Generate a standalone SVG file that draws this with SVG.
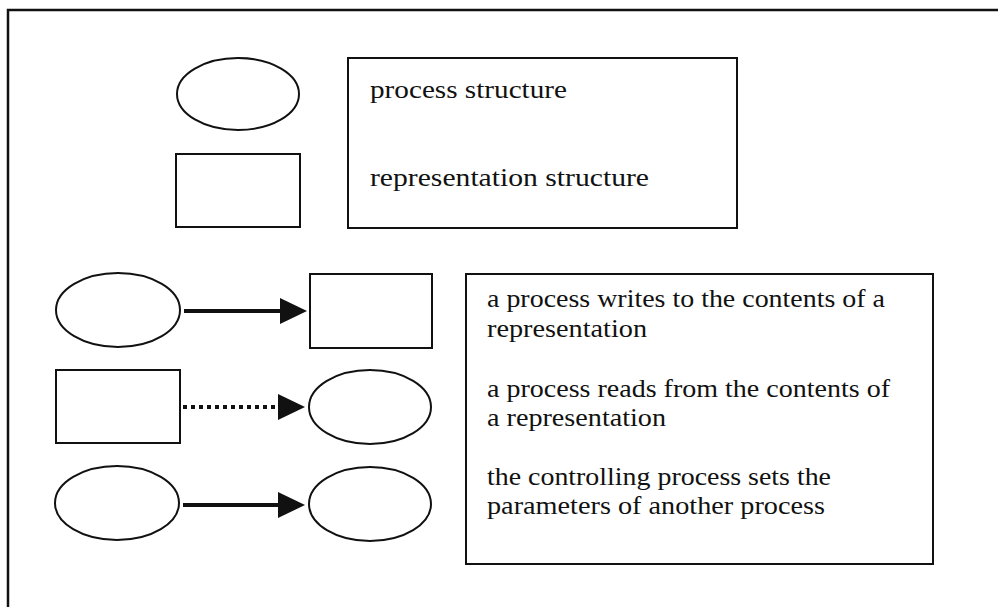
<svg xmlns="http://www.w3.org/2000/svg" width="998" height="607" viewBox="0 0 998 607">
  <style>
    .shape { fill: #fff; stroke: #111; stroke-width: 2; }
    .frame { fill: none; stroke: #111; stroke-width: 2.5; }
    .link { fill: none; stroke: #111; stroke-width: 4; }
    .dotted { stroke-dasharray: 4 4; }
    .lbl { font-family: "Palatino Linotype", "Book Antiqua", "Liberation Serif", serif; font-size: 26px; fill: #111; }
  </style>
  <defs>
    <marker id="head" markerUnits="userSpaceOnUse" markerWidth="28" markerHeight="28" refX="0" refY="13" orient="auto">
      <path d="M0,0 L27,13 L0,26 Z" fill="#111"/>
    </marker>
  </defs>

  <rect width="998" height="607" fill="#fff"/>

  <!-- outer frame: only the top and left edges fall inside the view -->
  <path class="frame" d="M8,607 V10 H998"/>

  <!-- key: symbols and their meaning -->
  <g id="key-process">
    <ellipse class="shape" cx="238" cy="94" rx="61" ry="36"/>
  </g>
  <g id="key-representation">
    <rect class="shape" x="176" y="154" width="124" height="73"/>
  </g>
  <g id="key-legend">
    <rect class="shape" x="348" y="58" width="389" height="170"/>
    <text class="lbl" x="370" y="98" textLength="197" lengthAdjust="spacingAndGlyphs">process structure</text>
    <text class="lbl" x="370" y="186" textLength="279" lengthAdjust="spacingAndGlyphs">representation structure</text>
  </g>

  <!-- row 1: process writes to representation -->
  <g id="write-process">
    <ellipse class="shape" cx="118" cy="310" rx="62" ry="37"/>
  </g>
  <g id="write-target">
    <rect class="shape" x="310" y="274" width="122" height="74"/>
  </g>

  <!-- row 2: process reads from representation -->
  <g id="read-source">
    <rect class="shape" x="56" y="370" width="124" height="73"/>
  </g>
  <g id="read-process">
    <ellipse class="shape" cx="370" cy="407" rx="61" ry="37"/>
  </g>

  <!-- row 3: controlling process sets another process -->
  <g id="control-process">
    <ellipse class="shape" cx="117" cy="503" rx="62" ry="37"/>
  </g>
  <g id="controlled-process">
    <ellipse class="shape" cx="370" cy="504" rx="61" ry="37"/>
  </g>

  <g id="connectors">
    <line class="link" x1="184" y1="311" x2="280" y2="311" marker-end="url(#head)"/>
    <line class="link dotted" x1="183" y1="407" x2="278" y2="407" marker-end="url(#head)"/>
    <line class="link" x1="183" y1="505" x2="278" y2="505" marker-end="url(#head)"/>
  </g>

  <g id="description">
    <rect class="shape" x="466" y="274" width="467" height="290"/>
    <text class="lbl" x="487" y="307" textLength="398" lengthAdjust="spacingAndGlyphs">a process writes to the contents of a</text>
    <text class="lbl" x="487" y="337" textLength="160" lengthAdjust="spacingAndGlyphs">representation</text>
    <text class="lbl" x="487" y="397" textLength="403" lengthAdjust="spacingAndGlyphs">a process reads from the contents of</text>
    <text class="lbl" x="487" y="426" textLength="179" lengthAdjust="spacingAndGlyphs">a representation</text>
    <text class="lbl" x="487" y="485" textLength="344" lengthAdjust="spacingAndGlyphs">the controlling process sets the</text>
    <text class="lbl" x="487" y="514" textLength="338" lengthAdjust="spacingAndGlyphs">parameters of another process</text>
  </g>
</svg>
